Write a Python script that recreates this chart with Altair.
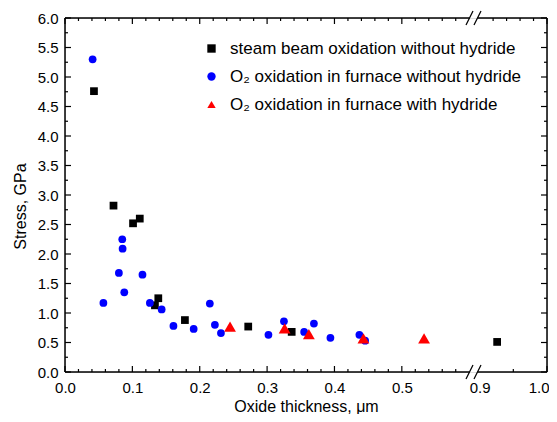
import altair as alt
import pandas as pd
import numpy as np

S1 = "steam beam oxidation without hydride"
S2 = "O₂ oxidation in furnace without hydride"
S3 = "O₂ oxidation in furnace with hydride"
SERIES = [S1, S2, S3]
COLORS = ["#000000", "#0000ff", "#ff0000"]
SHAPES = ["square", "circle", "triangle-up"]

steam_x = [0.043, 0.072, 0.101, 0.111, 0.1385, 0.1335, 0.178, 0.272, 0.3365, 0.926]
steam_y = [4.76, 2.82, 2.52, 2.60, 1.25, 1.13, 0.88, 0.77, 0.68, 0.51]
furn_x = [0.041, 0.057, 0.080, 0.085, 0.0855, 0.088, 0.115, 0.126, 0.1435, 0.161, 0.191,
          0.215, 0.2225, 0.2315, 0.302, 0.325, 0.355, 0.3695, 0.394, 0.437, 0.4455]
furn_y = [5.30, 1.17, 1.68, 2.25, 2.09, 1.35, 1.65, 1.17, 1.06, 0.78, 0.73,
          1.16, 0.80, 0.66, 0.63, 0.86, 0.68, 0.82, 0.58, 0.63, 0.53]
hyd_x = [0.245, 0.326, 0.362, 0.443, 0.533]
hyd_y = [0.77, 0.74, 0.64, 0.57, 0.57]

x_labels = [0.0, 0.1, 0.2, 0.3, 0.4, 0.5, 0.9, 1.0]

# broken x axis: values above the break are shifted left
SHIFT = 0.2845
XMAX = 1.0 - SHIFT
CALC = f"datum.x > 0.7 ? datum.x - {SHIFT} : datum.x"
W, H = 482, 354
FONT = "Liberation Sans"

df = pd.DataFrame({
    "x": steam_x + furn_x + hyd_x,
    "y": steam_y + furn_y + hyd_y,
    "series": [S1] * len(steam_x) + [S2] * len(furn_x) + [S3] * len(hyd_x),
})

xscale = alt.Scale(domain=[0, XMAX], nice=False, zero=False)
yscale = alt.Scale(domain=[0, 6], nice=False)
xaxis = alt.Axis(
    values=[v if v < 0.7 else v - SHIFT for v in x_labels],
    labelExpr=f"datum.value > 0.6 ? format(datum.value + {SHIFT}, '.1f') : format(datum.value, '.1f')",
    ticks=False, tickSize=0, domain=False, grid=False, labelFlush=False, labelOverlap=False,
    labelAlign={"condition": {"test": "datum.value > 0.7", "value": "right"}, "value": "center"},
    labelOffset={"condition": {"test": "datum.value > 0.7", "value": 2}, "value": 0},
    labelFont=FONT, labelFontSize=15, labelColor="#000", labelPadding=8,
    title="Oxide thickness, μm", titleFont=FONT, titleFontSize=16, titleFontWeight="normal",
    titleColor="#000", titlePadding=3,
)
yaxis = alt.Axis(
    values=[0, 0.5, 1, 1.5, 2, 2.5, 3, 3.5, 4, 4.5, 5, 5.5, 6], format=".1f",
    ticks=False, tickSize=0, domain=False, grid=False, labelFlush=False, labelOverlap=False,
    labelFont=FONT, labelFontSize=15, labelColor="#000", labelPadding=7,
    title="Stress, GPa", titleFont=FONT, titleFontSize=16, titleFontWeight="normal",
    titleColor="#000", titleX=-37, titleY=188,
)

legend = alt.Legend(title=None, orient="none", legendX=138, legendY=22,
                    labelFont=FONT, labelFontSize=17, labelColor="#000",
                    labelLimit=0, symbolStrokeWidth=0, symbolSize=70,
                    rowPadding=10, labelOffset=10, padding=0)

base = alt.Chart(df).transform_calculate(
    xp=CALC, sz=f"datum.series === '{S3}' ? 140 : 60")

points = base.mark_point(filled=True, opacity=1, strokeWidth=0).encode(
    x=alt.X("xp:Q", scale=xscale, axis=xaxis),
    y=alt.Y("y:Q", scale=yscale, axis=yaxis),
    color=alt.Color("series:N", scale=alt.Scale(domain=SERIES, range=COLORS), legend=legend),
    shape=alt.Shape("series:N", scale=alt.Scale(domain=SERIES, range=SHAPES), legend=legend),
    size=alt.Size("sz:Q", scale=None, legend=None),
)

# tick marks (inward)
major_x = [0.0, 0.1, 0.2, 0.3, 0.4, 0.5, 1.0]
minor_x_left = [round(v, 2) for v in np.arange(0.02, 0.6, 0.02) if abs(v * 10 - round(v * 10)) > 1e-6]
minor_top_right = [0.92, 0.94, 0.96, 0.98]
minor_bot_right = [0.95]
major_y = list(np.arange(0, 6.01, 0.5))
minor_y = list(np.arange(0.25, 6, 0.5))


def xticks(vals, y0, y1):
    return alt.Chart(pd.DataFrame({"x": vals})).transform_calculate(xp=CALC).mark_rule(
        color="#000", strokeWidth=1.2).encode(
        x=alt.X("xp:Q", scale=xscale, axis=xaxis), y=alt.value(y0), y2=alt.value(y1))


def yticks(vals, x0, x1):
    return alt.Chart(pd.DataFrame({"y": vals})).mark_rule(color="#000", strokeWidth=1.2).encode(
        y=alt.Y("y:Q", scale=yscale, axis=yaxis), x=alt.value(x0), x2=alt.value(x1))


tick_layers = [
    xticks(major_x, H, H - 6), xticks(minor_x_left + minor_bot_right, H, H - 3),
    xticks(major_x, 0, 6), xticks(minor_x_left + minor_top_right, 0, 3),
    yticks(major_y, 0, 6), yticks(minor_y, 0, 3),
    yticks(major_y, W, W - 6), yticks(minor_y, W, W - 3),
]

GAP_L = (469.5 - 65) / (W / XMAX)
GAP_R = (477.5 - 65) / (W / XMAX)
DX = 3.5 / (W / XMAX)

anchor = alt.Chart(pd.DataFrame({"a": [0]}))


def hline(x0, x1, ypx):
    return anchor.mark_rule(color="#000", strokeWidth=1.5).encode(
        x=alt.XDatum(x0, type="quantitative", scale=xscale, axis=xaxis),
        x2=alt.X2Datum(x1), y=alt.value(ypx))


def vline(xpx):
    return anchor.mark_rule(color="#000", strokeWidth=1.5).encode(
        x=alt.value(xpx), y=alt.value(0), y2=alt.value(H))


def slash(c, ypx):
    return anchor.mark_rule(color="#000", strokeWidth=1.2).encode(
        x=alt.XDatum(c - DX, type="quantitative", scale=xscale, axis=xaxis),
        x2=alt.X2Datum(c + DX), y=alt.value(ypx + 7), y2=alt.value(ypx - 7))


frame = [
    hline(0, GAP_L, H), hline(GAP_R, XMAX, H), hline(0, GAP_L, 0), hline(GAP_R, XMAX, 0),
    vline(0), vline(W),
    slash(GAP_L, H), slash(GAP_R, H), slash(GAP_L, 0), slash(GAP_R, 0),
]

chart = alt.layer(*frame, *tick_layers, points).properties(
    width=W, height=H,
    autosize=alt.AutoSizeParams(type="none"),
    padding={"left": 57, "top": 10, "right": 2, "bottom": 42},
).configure_view(stroke=None).configure(background="#ffffff")

chart.save("out.html", embed_options={"renderer": "svg", "actions": False})
